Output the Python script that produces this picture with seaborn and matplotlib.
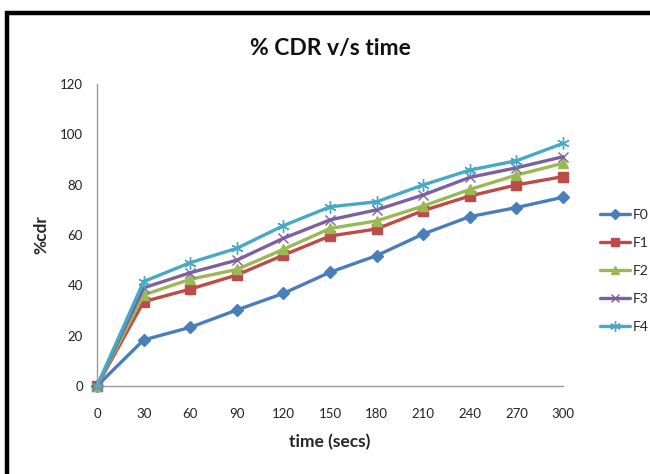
import matplotlib
matplotlib.use("Agg")
import matplotlib.pyplot as plt
import seaborn as sns
import pandas as pd
from matplotlib.patches import Rectangle

time_secs = [0, 30, 60, 90, 120, 150, 180, 210, 240, 270, 300]
F0 = [0, 18.3, 23.3, 30.2, 36.8, 45.2, 51.8, 60.4, 67.3, 70.9, 75.0]
F1 = [0, 33.5, 38.5, 44.1, 52.0, 59.6, 62.4, 69.7, 75.5, 79.9, 83.2]
F2 = [0, 36.2, 42.4, 46.3, 54.3, 62.6, 65.6, 71.5, 78.1, 83.8, 88.5]
F3 = [0, 39.0, 45.0, 50.0, 58.7, 66.0, 70.0, 75.9, 82.9, 86.7, 91.1]
F4 = [0, 41.5, 49.0, 54.7, 63.7, 71.2, 73.2, 79.9, 85.8, 89.5, 96.4]
series_names = ["F0", "F1", "F2", "F3", "F4"]
y_ticks = [0, 20, 40, 60, 80, 100, 120]

rows = []
for name, vals in zip(series_names, [F0, F1, F2, F3, F4]):
    for t, v in zip(time_secs, vals):
        rows.append({"time": t, "cdr": v, "series": name})
df = pd.DataFrame(rows)

sns.set_theme(style="white")
plt.rcParams['font.family'] = ['Lato', 'DejaVu Sans']

colors = {"F0": "#4A7EBB", "F1": "#BE4B48", "F2": "#98B954", "F3": "#7D60A0", "F4": "#46AAC5"}
markers = {"F0": "D", "F1": "s", "F2": "^", "F3": "x", "F4": (6, 2, 0)}
msizes = {"F0": 6, "F1": 7, "F2": 7.5, "F3": 7, "F4": 9}

fig = plt.figure(figsize=(6.5, 4.74), dpi=100)
ax = fig.add_axes([97/650, 1-386/474, (563-97)/650, (386-84)/474])

for name in series_names:
    sub = df[df["series"] == name]
    sns.lineplot(data=sub, x="time", y="cdr", color=colors[name], marker=markers[name],
                 markersize=msizes[name], markeredgewidth=1.0, markeredgecolor=colors[name],
                 linewidth=2.4, ax=ax, label=name, clip_on=False)

ax.set_xlim(0, 300)
ax.set_ylim(0, 120)
ax.set_xticks(time_secs)
ax.set_yticks(y_ticks)
ax.tick_params(axis='both', length=0, labelsize=9.5, colors="#222222")
ax.tick_params(axis='x', pad=16)
ax.tick_params(axis='y', pad=10)
for s in ["top", "right"]:
    ax.spines[s].set_visible(False)
for s in ["left", "bottom"]:
    ax.spines[s].set_color("#9a9a9a")
    ax.spines[s].set_linewidth(1.0)
ax.set_xlabel("time (secs)", fontsize=12.5, fontweight="bold", labelpad=10)
ax.set_ylabel("%cdr", fontsize=12.5, fontweight="bold", labelpad=8)

handles, labels = ax.get_legend_handles_labels()
leg = ax.legend(handles, labels, loc="center left", bbox_to_anchor=(594/650, 1-271/474),
                bbox_transform=fig.transFigure, frameon=False, fontsize=10,
                handlelength=2.2, handletextpad=0.2, labelspacing=1.15, borderaxespad=0,
                markerscale=0.85)

fig.text(330/650, 1-48/474, "% CDR v/s time", ha="center", va="center",
         fontsize=16.5, fontweight="bold", color="#111111")

fig.patches.append(Rectangle((7/650, -0.2), 1.2, 1 - 13/474 + 0.2, transform=fig.transFigure,
                             fill=False, edgecolor="black", linewidth=3.2, zorder=10))

fig.savefig("out.png", dpi=100)
